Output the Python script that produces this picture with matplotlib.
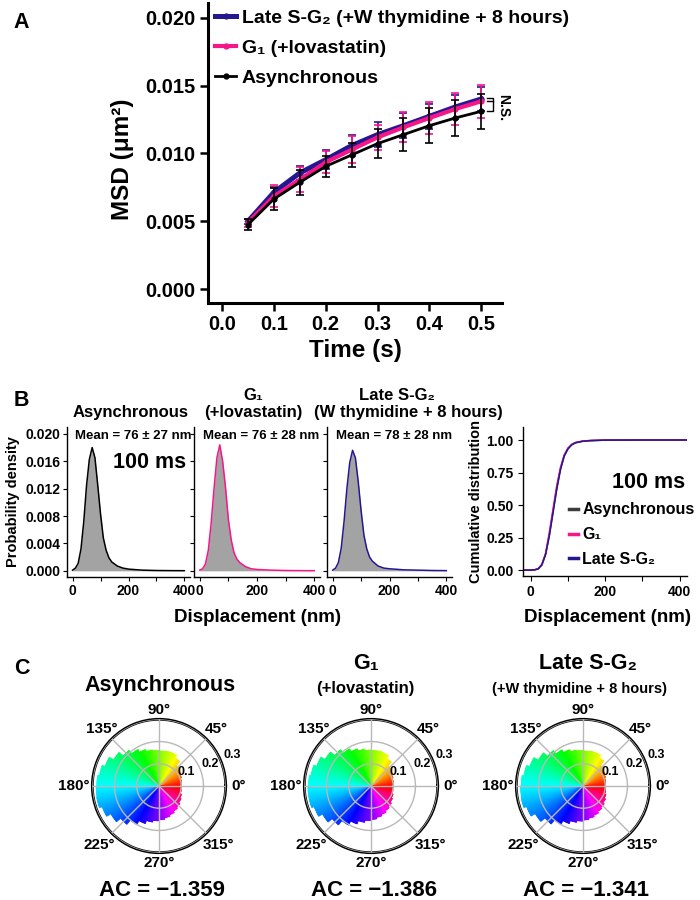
import numpy as np
import matplotlib
matplotlib.use('Agg')
import matplotlib.pyplot as plt
from matplotlib.lines import Line2D
from matplotlib.ticker import FormatStrFormatter
from matplotlib.colors import hsv_to_rgb

plt.rcParams['font.family'] = ['Liberation Sans', 'DejaVu Sans']
plt.rcParams['font.weight'] = 'bold'
plt.rcParams['axes.labelweight'] = 'bold'

# === Panel A data: MSD vs time lag ===
time_s = [0.05, 0.10, 0.15, 0.20, 0.25, 0.30, 0.35, 0.40, 0.45, 0.50]
msd_late = [0.00499, 0.00713, 0.00856, 0.00954, 0.01058, 0.01139, 0.01205, 0.01274, 0.01343, 0.01402]
msd_g1 = [0.00490, 0.00684, 0.00807, 0.00935, 0.01028, 0.01119, 0.01193, 0.01262, 0.01328, 0.01385]
msd_async = [0.00475, 0.00664, 0.00787, 0.00905, 0.00989, 0.01073, 0.01139, 0.01205, 0.01262, 0.01311]
err_late = [0.0002, 0.0004, 0.0005, 0.0007, 0.0008, 0.0009, 0.0009, 0.0009, 0.0009, 0.0009]
err_g1 = [0.0003, 0.0008, 0.0009, 0.0008, 0.0010, 0.0009, 0.0011, 0.0012, 0.0012, 0.0012]
err_async = [0.0004, 0.0008, 0.0009, 0.0008, 0.0009, 0.0011, 0.0012, 0.0013, 0.0013, 0.0013]

# === Panel B data: displacement distributions (100 ms) ===
disp_nm = [0, 10, 20, 30, 40, 50, 60, 70, 80, 90, 100, 110, 120, 130, 140, 160, 180, 200, 250, 300, 350, 400]
dens_async = [0.0001, 0.0004, 0.0011, 0.0032, 0.0072, 0.0125, 0.0163, 0.0180, 0.0165, 0.0125, 0.0083,
              0.0048, 0.0030, 0.0019, 0.0013, 0.0007, 0.0004, 0.00025, 0.0001, 0.00005, 0.00003, 0.00002]
dens_g1 = [0.0001, 0.0003, 0.0010, 0.0030, 0.0070, 0.0120, 0.0165, 0.0184, 0.0160, 0.0122, 0.0075,
           0.0045, 0.0026, 0.0017, 0.0012, 0.0006, 0.0003, 0.0002, 0.0001, 0.00005, 0.00003, 0.00002]
dens_late = [0.0001, 0.0004, 0.0012, 0.0033, 0.0072, 0.0120, 0.0158, 0.0176, 0.0165, 0.0130, 0.0088,
             0.0052, 0.0032, 0.0020, 0.0014, 0.0007, 0.0004, 0.0003, 0.00015, 0.0001, 0.00005, 0.00003]
mean_labels = ["Mean = 76 \u00b1 27 nm", "Mean = 76 \u00b1 28 nm", "Mean = 78 \u00b1 28 nm"]

cdf_nm = [-22, 0, 10, 20, 30, 40, 50, 60, 70, 80, 90, 100, 110, 120, 140, 160, 200, 300, 420]
cdf_async = [0, 0, 0.002, 0.010, 0.040, 0.120, 0.270, 0.450, 0.630, 0.780, 0.880, 0.935, 0.965, 0.980, 0.992, 0.996, 0.999, 1.0, 1.0]
cdf_g1 = [0, 0, 0.002, 0.011, 0.045, 0.130, 0.290, 0.470, 0.650, 0.790, 0.885, 0.938, 0.966, 0.980, 0.992, 0.996, 0.999, 1.0, 1.0]
cdf_late = [0, 0, 0.002, 0.010, 0.040, 0.120, 0.260, 0.440, 0.620, 0.770, 0.875, 0.930, 0.962, 0.978, 0.990, 0.995, 0.999, 1.0, 1.0]

# === Panel C data: angle distributions (10 degree bins) ===
angle_bins = list(range(0, 360, 10))
rose_async = [0.100, 0.103, 0.108, 0.112, 0.120, 0.145, 0.160, 0.160, 0.158, 0.160, 0.165, 0.175,
              0.190, 0.210, 0.235, 0.258, 0.272, 0.280, 0.283, 0.285, 0.272, 0.250, 0.225, 0.200,
              0.180, 0.165, 0.157, 0.152, 0.145, 0.138, 0.130, 0.123, 0.115, 0.108, 0.102, 0.100]
rose_g1 = [0.100, 0.102, 0.106, 0.110, 0.118, 0.142, 0.158, 0.161, 0.160, 0.162, 0.168, 0.178,
           0.193, 0.213, 0.238, 0.260, 0.274, 0.281, 0.284, 0.284, 0.272, 0.252, 0.228, 0.203,
           0.182, 0.166, 0.156, 0.150, 0.143, 0.136, 0.128, 0.120, 0.112, 0.106, 0.101, 0.099]
rose_late = [0.101, 0.104, 0.109, 0.113, 0.121, 0.146, 0.160, 0.160, 0.158, 0.160, 0.164, 0.174,
             0.188, 0.208, 0.232, 0.255, 0.270, 0.278, 0.281, 0.283, 0.270, 0.248, 0.223, 0.199,
             0.180, 0.166, 0.158, 0.153, 0.147, 0.140, 0.132, 0.125, 0.117, 0.110, 0.104, 0.101]
ac_values = ["\u22121.359", "\u22121.386", "\u22121.341"]
theta_ticks = [0, 45, 90, 135, 180, 225, 270, 315]

NAVY = '#23188f'
PINK = '#f5168a'
GRAY_FILL = '#a3a3a3'

W, H = 700, 900
fig = plt.figure(figsize=(7, 9), dpi=100)


def box(l, t, r, b):
    return [l / W, 1 - b / H, (r - l) / W, (b - t) / H]


def ftext(x, y, s, **kw):
    fig.text(x / W, 1 - y / H, s, ha='center', va='center', **kw)


# === Panel A ===
axA = fig.add_axes(box(208, 3, 502, 303))
series = [
    (msd_late, err_late, NAVY, 3.6, "Late S-G\u2082 (+W thymidine + 8 hours)", 2),
    (msd_g1, err_g1, PINK, 3.0, "G\u2081 (+lovastatin)", 3),
    (msd_async, err_async, 'black', 2.0, "Asynchronous", 4),
]
handles = []
for y, e, c, lw, lab, z in series:
    axA.errorbar(time_s, y, yerr=e, color=c, lw=lw, marker='o', ms=3.5, capsize=3,
                 elinewidth=1.2, capthick=1.2, zorder=z)
    handles.append(Line2D([], [], color=c, lw=lw, marker='o', ms=3.5, label=lab))
axA.set_xlim(-0.027, 0.54)
axA.set_ylim(-0.00103, 0.0211)
axA.set_xticks(np.arange(0, 0.51, 0.1))
axA.set_yticks(np.arange(0, 0.0201, 0.005))
axA.xaxis.set_major_formatter(FormatStrFormatter('%.1f'))
axA.yaxis.set_major_formatter(FormatStrFormatter('%.3f'))
for s in ['top', 'right']:
    axA.spines[s].set_visible(False)
for s in ['left', 'bottom']:
    axA.spines[s].set_linewidth(2.2)
axA.tick_params(length=6, width=1.8, labelsize=14.5, pad=3)
axA.set_xlabel("Time (s)", fontsize=17.5)
axA.set_ylabel("MSD (\u03bcm\u00b2)", fontsize=17.5)
axA.xaxis.set_label_coords(0.5, -0.12)
axA.yaxis.set_label_coords(-0.25, 0.48)
axA.legend(handles=handles, loc='upper left', bbox_to_anchor=(0.025, 0.978), frameon=False,
           fontsize=14, handlelength=1.05, handletextpad=0.3, labelspacing=0.62,
           borderaxespad=0, borderpad=0)
# N.S. bracket
axA.plot([0.512, 0.523, 0.523, 0.512], [0.0141, 0.0141, 0.0131, 0.0131], color='black', lw=1,
         clip_on=False)
axA.plot([0.512, 0.523], [0.01385, 0.01385], color='black', lw=1, clip_on=False)
axA.text(0.542, 0.0134, "N.S.", rotation=270, fontsize=10, ha='center', va='center', clip_on=False)

# === Panel B: densities ===
dens_boxes = [box(67, 427, 190, 577), box(194, 427, 320, 577), box(327, 427, 452, 577)]
dens_sets = [dens_async, dens_g1, dens_late]
dens_colors = ['black', PINK, NAVY]
mean_x = [133, 261, 394]
for i, (bx, d, c) in enumerate(zip(dens_boxes, dens_sets, dens_colors)):
    ax = fig.add_axes(bx)
    ax.fill_between(disp_nm, d, color=GRAY_FILL, lw=0)
    ax.plot(disp_nm, d, color=c, lw=1.1)
    ax.set_xlim(-20, 420)
    ax.set_ylim(-0.0009, 0.021)
    ax.set_xticks([0, 100, 200, 300, 400])
    ax.set_xticklabels(['0', '', '200', '', '400'])
    ax.set_yticks(np.arange(0, 0.0201, 0.004))
    if i == 0:
        ax.yaxis.set_major_formatter(FormatStrFormatter('%.3f'))
        ax.set_ylabel("Probability density", fontsize=10.5)
        ax.yaxis.set_label_coords(-0.38, 0.5)
    else:
        ax.set_yticklabels([])
    for s in ['top', 'right']:
        ax.spines[s].set_visible(False)
    for s in ['left', 'bottom']:
        ax.spines[s].set_linewidth(1.0)
    ax.tick_params(length=3, width=0.8, labelsize=10, pad=2)
    ftext(mean_x[i], 436, mean_labels[i], fontsize=9.5)
ftext(150, 462, "100 ms", fontsize=15.5)

ftext(131, 412, "Asynchronous", fontsize=12)
ftext(253, 395, "G\u2081", fontsize=12)
ftext(253, 412, "(+lovastatin)", fontsize=12)
ftext(397, 395, "Late S-G\u2082", fontsize=12)
ftext(408, 412, "(W thymidine + 8 hours)", fontsize=12)
ftext(258, 617, "Displacement (nm)", fontsize=13.5)

# === Panel B: cumulative ===
axC = fig.add_axes(box(522.5, 427, 687, 576))
axC.plot(cdf_nm, cdf_async, color='#3c3c3c', lw=1.1, label="Asynchronous")
axC.plot(cdf_nm, cdf_g1, color=PINK, lw=1.1, label="G\u2081")
axC.plot(cdf_nm, cdf_late, color=NAVY, lw=1.1, label="Late S-G\u2082")
axC.set_xlim(-22, 420)
axC.set_ylim(-0.045, 1.1)
axC.set_xticks([0, 100, 200, 300, 400])
axC.set_xticklabels(['0', '', '200', '', '400'])
axC.set_yticks([0, 0.25, 0.5, 0.75, 1.0])
axC.yaxis.set_major_formatter(FormatStrFormatter('%.2f'))
for s in ['top', 'right']:
    axC.spines[s].set_visible(False)
for s in ['left', 'bottom']:
    axC.spines[s].set_linewidth(1.0)
axC.tick_params(length=3.5, width=0.8, labelsize=10, pad=3)
axC.set_ylabel("Cumulative distribution", fontsize=10.5)
axC.yaxis.set_label_coords(-0.24, 0.5)
leg = axC.legend(loc='upper left', bbox_to_anchor=(0.28, 0.495), frameon=False, fontsize=11.5,
                 handlelength=0.6, handletextpad=0.25, labelspacing=0.62, borderaxespad=0, borderpad=0)
for ln in leg.get_lines():
    ln.set_linewidth(2.5)
ftext(649, 483, "100 ms", fontsize=15.5)
ftext(607, 617, "Displacement (nm)", fontsize=13.5)

# === Panel C: polar roses ===
centers = [159, 371, 583]
roses = [rose_async, rose_g1, rose_late]
label_r = [0.36, 0.365, 0.342, 0.365, 0.385, 0.377, 0.347, 0.377]
R = 66.7
sub = np.arange(10)
for cx, r_vals, ac in zip(centers, roses, ac_values):
    ax = fig.add_axes(box(cx - R, 786 - R, cx + R, 786 + R), projection='polar')
    for a0, r in zip(angle_bins, r_vals):
        th = a0 + sub + 0.5
        cols = hsv_to_rgb(np.column_stack([(th / 360.0) % 1, np.ones_like(th), np.ones_like(th)]))
        ax.bar(np.deg2rad(th), r, width=np.deg2rad(1.4), color=cols, edgecolor=cols, lw=0.4, zorder=1)
    ax.set_ylim(0, 0.3)
    ax.set_yticks([0.1, 0.2, 0.3])
    ax.set_yticklabels([])
    ax.set_thetagrids(theta_ticks, labels=[''] * len(theta_ticks))
    ax.grid(color='#b8b8b8', lw=1)
    ax.set_axisbelow(False)
    ax.spines['polar'].set_linewidth(2)
    for t, lr in zip(theta_ticks, label_r):
        ax.text(np.deg2rad(t), lr, f"{t}\u00b0", fontsize=11, ha='center', va='center', clip_on=False)
    for val, rr, ang in [("0.1", 0.137, 27), ("0.2", 0.25, 23), ("0.3", 0.36, 23)]:
        ax.text(np.deg2rad(ang), rr, val, fontsize=9, ha='center', va='center', clip_on=False)
    ftext(cx + 3, 890, "AC = " + ac, fontsize=16)

ftext(160, 685, "Asynchronous", fontsize=15.5)
ftext(366, 663, "G\u2081", fontsize=15.5)
ftext(365, 689, "(+lovastatin)", fontsize=12)
ftext(588, 663, "Late S-G\u2082", fontsize=15.5)
ftext(579, 689, "(+W thymidine + 8 hours)", fontsize=10.5)

# panel letters
ftext(21, 22, "A", fontsize=15.5)
ftext(21, 400, "B", fontsize=15.5)
ftext(22, 668, "C", fontsize=15.5)

fig.savefig("out.png", dpi=100)
